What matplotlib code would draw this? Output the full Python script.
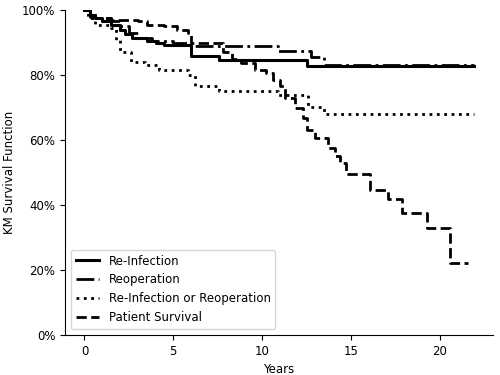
import matplotlib
matplotlib.use("Agg")
import matplotlib.pyplot as plt
from matplotlib.ticker import PercentFormatter

plt.rcParams["font.size"] = 8.5

# Re-Infection (solid)
reinf_t = [0, 0.3, 0.6, 1.0, 1.5, 2.0, 2.3, 2.7, 3.5, 4.0, 4.5, 6.0, 7.6, 12.5, 21.9]
reinf_s = [1.0, 0.985, 0.975, 0.965, 0.955, 0.94, 0.925, 0.915, 0.905, 0.90, 0.893, 0.858, 0.845, 0.828, 0.828]

# Reoperation (dash-dot)
reop_t = [0, 0.3, 0.8, 1.5, 2.0, 2.5, 3.0, 3.8, 5.0, 6.0, 10.9, 12.75, 13.5, 21.9]
reop_s = [1.0, 0.98, 0.975, 0.965, 0.95, 0.93, 0.915, 0.905, 0.898, 0.89, 0.875, 0.855, 0.831, 0.831]

# Re-Infection or Reoperation (dotted)
combo_t = [0, 0.2, 0.4, 0.6, 1.5, 1.75, 2.0, 2.6, 3.4, 4.2, 5.8, 6.2, 7.6, 10.9, 12.6, 13.5, 21.9]
combo_s = [1.0, 0.98, 0.965, 0.955, 0.945, 0.908, 0.87, 0.84, 0.831, 0.815, 0.80, 0.765, 0.75, 0.74, 0.702, 0.68, 0.68]

# Patient Survival (dashed)
pat_t = [0, 0.3, 0.6, 1.5, 3.0, 3.5, 4.5, 5.2, 5.8, 6.0, 7.8, 8.3, 8.8, 9.6, 10.2, 10.6, 11.0,
         11.3, 11.85, 12.3, 12.5, 13.0, 13.7, 14.1, 14.4, 14.7, 16.1, 17.1, 17.9, 19.3, 20.6, 21.6]
pat_s = [1.0, 0.99, 0.975, 0.97, 0.965, 0.955, 0.95, 0.94, 0.93, 0.90, 0.87, 0.85, 0.837, 0.815,
         0.806, 0.785, 0.765, 0.729, 0.698, 0.668, 0.63, 0.606, 0.575, 0.55, 0.529, 0.495,
         0.446, 0.418, 0.375, 0.329, 0.22, 0.22]

labels = ["Re-Infection", "Reoperation", "Re-Infection or Reoperation", "Patient Survival"]

fig = plt.figure(figsize=(5, 3.75), dpi=100)
ax = fig.add_axes([0.13, 0.107, 0.856, 0.866])

ax.step(reinf_t, reinf_s, where="post", color="black", lw=2.2, ls="-", label=labels[0])
ax.step(reop_t, reop_s, where="post", color="black", lw=2.0, ls="-.", label=labels[1])
ax.step(combo_t, combo_s, where="post", color="black", lw=2.0, ls=":", label=labels[2])
ax.step(pat_t, pat_s, where="post", color="black", lw=2.0, ls="--", label=labels[3])

ax.set_ylim(0, 1)
ax.yaxis.set_major_formatter(PercentFormatter(1.0, decimals=0))
ax.set_yticks([0, 0.2, 0.4, 0.6, 0.8, 1.0])
ax.set_xticks([0, 5, 10, 15, 20])
ax.set_xlabel("Years")
ax.set_ylabel("KM Survival Function")
ax.spines["top"].set_visible(False)
ax.spines["right"].set_visible(False)
ax.legend(loc="lower left")

fig.savefig("out.png", dpi=100)
